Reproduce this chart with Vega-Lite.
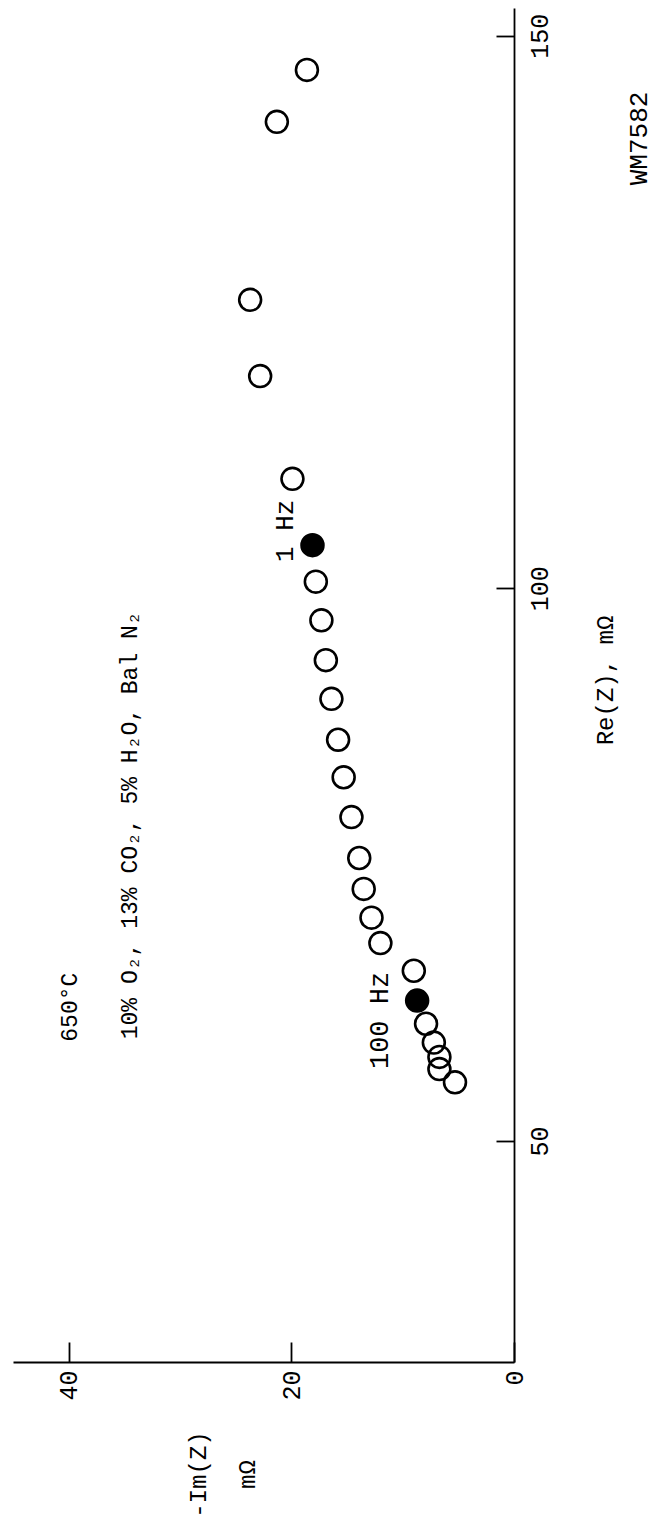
{
  "$schema": "https://vega.github.io/schema/vega-lite/v6.json",
  "autosize": {"type": "none"},
  "padding": {"left": 13, "top": 8, "right": 144, "bottom": 169},
  "width": 501,
  "height": 1354,
  "background": "white",
  "config": {
    "view": {"stroke": null},
    "axis": {
      "grid": false,
      "domainColor": "black",
      "domainWidth": 1.8,
      "tickColor": "black",
      "tickWidth": 1.8,
      "labelFont": "Liberation Mono",
      "titleFont": "Liberation Mono",
      "labelColor": "black",
      "titleColor": "black",
      "titleFontWeight": "normal",
      "labelFontSize": 25,
      "titleFontSize": 24
    },
    "text": {"font": "Liberation Mono", "fontSize": 23, "color": "black"}
  },
  "data": {
    "values": [
      {"re": 146.9, "negIm": 18.6, "type": "open"},
      {"re": 142.2, "negIm": 21.3, "type": "open"},
      {"re": 126.1, "negIm": 23.7, "type": "open"},
      {"re": 119.2, "negIm": 22.8, "type": "open"},
      {"re": 109.9, "negIm": 19.9, "type": "open"},
      {"re": 103.9, "negIm": 18.1, "type": "filled"},
      {"re": 100.6, "negIm": 17.8, "type": "open"},
      {"re": 97.1, "negIm": 17.3, "type": "open"},
      {"re": 93.5, "negIm": 16.9, "type": "open"},
      {"re": 90.0, "negIm": 16.4, "type": "open"},
      {"re": 86.3, "negIm": 15.8, "type": "open"},
      {"re": 82.9, "negIm": 15.3, "type": "open"},
      {"re": 79.3, "negIm": 14.6, "type": "open"},
      {"re": 75.6, "negIm": 13.9, "type": "open"},
      {"re": 72.8, "negIm": 13.5, "type": "open"},
      {"re": 70.2, "negIm": 12.8, "type": "open"},
      {"re": 67.9, "negIm": 12.0, "type": "open"},
      {"re": 65.4, "negIm": 9.0, "type": "open"},
      {"re": 62.7, "negIm": 8.7, "type": "filled"},
      {"re": 60.6, "negIm": 7.9, "type": "open"},
      {"re": 58.9, "negIm": 7.2, "type": "open"},
      {"re": 57.6, "negIm": 6.7, "type": "open"},
      {"re": 56.5, "negIm": 6.7, "type": "open"},
      {"re": 55.3, "negIm": 5.3, "type": "open"}
    ]
  },
  "layer": [
    {
      "mark": {"type": "point", "filled": true, "size": 480, "strokeWidth": 2.6, "stroke": "black", "opacity": 1},
      "encoding": {
        "x": {
          "field": "negIm", "type": "quantitative",
          "scale": {"domain": [0, 45], "reverse": true, "nice": false, "zero": false},
          "axis": {
            "orient": "bottom",
            "values": [0, 20, 40],
            "tickSize": -20,
            "labelAngle": 270,
            "labelAlign": "right",
            "labelBaseline": "middle",
            "labelPadding": 28,
            "title": ["-Im(Z)", "mΩ"],
            "titleAngle": 270,
            "titleAlign": "center",
            "titleBaseline": "middle",
            "titleLineHeight": 49,
            "titleX": 185,
            "titleY": 112
          }
        },
        "y": {
          "field": "re", "type": "quantitative",
          "scale": {"domain": [30, 152.5], "nice": false, "zero": false},
          "axis": {
            "orient": "right",
            "values": [50, 100, 150],
            "tickSize": -18,
            "labelAngle": 270,
            "labelAlign": "center",
            "labelBaseline": "top",
            "labelPadding": 31,
            "title": "Re(Z),  mΩ",
            "titleAngle": 270,
            "titleAlign": "center",
            "titleBaseline": "middle",
            "titleX": 91,
            "titleY": 672
          }
        },
        "fill": {
          "field": "type", "type": "nominal",
          "scale": {"domain": ["open", "filled"], "range": ["rgba(0,0,0,0)", "black"]},
          "legend": null
        }
      }
    },
    {
      "data": {"values": [{}]},
      "mark": {"type": "text", "angle": 270, "align": "center", "baseline": "middle", "fontSize": 23},
      "encoding": {"x": {"datum": 39.9}, "y": {"datum": 62.1}, "text": {"value": "650°C"}}
    },
    {
      "data": {"values": [{}]},
      "mark": {"type": "text", "angle": 270, "align": "left", "baseline": "middle", "fontSize": 23},
      "encoding": {"x": {"datum": 34.5}, "y": {"datum": 59.2}, "text": {"value": "10% O₂, 13% CO₂, 5% H₂O, Bal N₂"}}
    },
    {
      "data": {"values": [{}]},
      "mark": {"type": "text", "angle": 270, "align": "center", "baseline": "middle", "fontSize": 27},
      "encoding": {"x": {"datum": 12.0}, "y": {"datum": 60.9}, "text": {"value": "100 Hz"}}
    },
    {
      "data": {"values": [{}]},
      "mark": {"type": "text", "angle": 270, "align": "center", "baseline": "middle", "fontSize": 26},
      "encoding": {"x": {"datum": 20.6}, "y": {"datum": 105.2}, "text": {"value": "1 Hz"}}
    },
    {
      "data": {"values": [{}]},
      "mark": {"type": "text", "angle": 270, "align": "center", "baseline": "middle", "fontSize": 26},
      "encoding": {"x": {"datum": -11.2}, "y": {"datum": 140.7}, "text": {"value": "WM7582"}}
    }
  ]
}
